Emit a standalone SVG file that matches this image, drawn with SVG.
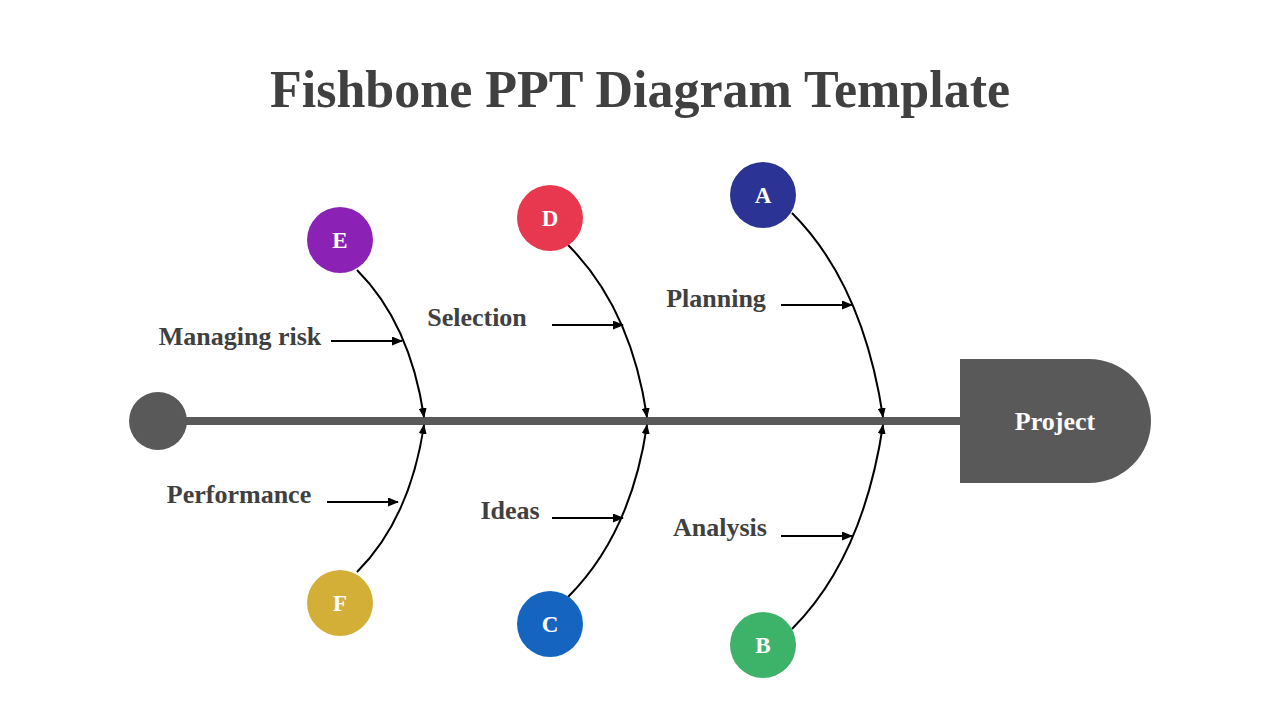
<svg xmlns="http://www.w3.org/2000/svg" width="1280" height="720" viewBox="0 0 1280 720">
  <style>
    .title{font-family:"Liberation Serif","DejaVu Serif",serif;font-weight:bold;font-size:52px;fill:#404040}
    .lbl{font-family:"Liberation Serif","DejaVu Serif",serif;font-weight:bold;font-size:26px;fill:#404040}
    .ltr{font-family:"Liberation Serif","DejaVu Serif",serif;font-weight:bold;font-size:23px;fill:#ffffff}
    .proj{font-family:"Liberation Serif","DejaVu Serif",serif;font-weight:bold;font-size:26px;fill:#ffffff}
    .bone{fill:none;stroke:#000;stroke-width:2;marker-end:url(#ah)}
    .ptr{fill:none;stroke:#000;stroke-width:2;marker-end:url(#ap)}
  </style>
  <defs>
    <marker id="ah" markerUnits="userSpaceOnUse" markerWidth="10" markerHeight="8" refX="9" refY="4" orient="auto" viewBox="0 0 10 8">
      <path d="M0,0 L10,4 L0,8 Z" fill="#000"/>
    </marker>
    <marker id="ap" markerUnits="userSpaceOnUse" markerWidth="11" markerHeight="9" refX="10" refY="4.5" orient="auto" viewBox="0 0 11 9">
      <path d="M0,0 L11,4.5 L0,9 Z" fill="#000"/>
    </marker>
  </defs>

  <rect x="0" y="0" width="1280" height="720" fill="#ffffff"/>
  <text class="title" x="640" y="107" text-anchor="middle">Fishbone PPT Diagram Template</text>

  <g id="spine">
    <line x1="158" y1="421" x2="962" y2="421" stroke="#595959" stroke-width="8"/>
    <circle cx="158" cy="421" r="29" fill="#595959"/>
  </g>

  <g id="connectors">
    <path class="bone" d="M357,270 Q410,323 424,417"/>
    <path class="bone" d="M357,572 Q410,519 424,425"/>
    <path class="bone" d="M568,245 Q631,308 647,417"/>
    <path class="bone" d="M568,597 Q631,534 647,425"/>
    <path class="bone" d="M792,213 Q863,284 883,417"/>
    <path class="bone" d="M792,629 Q863,558 883,425"/>
    <line class="ptr" x1="331" y1="341" x2="402" y2="341"/>
    <line class="ptr" x1="327" y1="502" x2="398" y2="502"/>
    <line class="ptr" x1="552" y1="325" x2="623" y2="325"/>
    <line class="ptr" x1="552" y1="518" x2="623" y2="518"/>
    <line class="ptr" x1="781" y1="305" x2="852" y2="305"/>
    <line class="ptr" x1="781" y1="536" x2="852" y2="536"/>
  </g>

  <g id="project">
    <path d="M960,359 H1089 A62,62 0 0 1 1089,483 H960 Z" fill="#595959"/>
    <text class="proj" x="1055" y="430" text-anchor="middle">Project</text>
  </g>

  <g id="node-A">
    <circle cx="763" cy="195" r="33" fill="#2B3494"/>
    <text class="ltr" x="763" y="203" text-anchor="middle">A</text>
  </g>
  <g id="node-B">
    <circle cx="763" cy="645" r="33" fill="#3DB36A"/>
    <text class="ltr" x="763" y="653" text-anchor="middle">B</text>
  </g>
  <g id="node-C">
    <circle cx="550" cy="624" r="33" fill="#1565C0"/>
    <text class="ltr" x="550" y="632" text-anchor="middle">C</text>
  </g>
  <g id="node-D">
    <circle cx="550" cy="218" r="33" fill="#E8384F"/>
    <text class="ltr" x="550" y="226" text-anchor="middle">D</text>
  </g>
  <g id="node-E">
    <circle cx="340" cy="240" r="33" fill="#8B22B5"/>
    <text class="ltr" x="340" y="248" text-anchor="middle">E</text>
  </g>
  <g id="node-F">
    <circle cx="340" cy="603" r="33" fill="#D4AF37"/>
    <text class="ltr" x="340" y="611" text-anchor="middle">F</text>
  </g>

  <g id="labels">
    <text class="lbl" x="240" y="345" text-anchor="middle">Managing risk</text>
    <text class="lbl" x="239" y="503" text-anchor="middle">Performance</text>
    <text class="lbl" x="477" y="326" text-anchor="middle">Selection</text>
    <text class="lbl" x="510" y="519" text-anchor="middle">Ideas</text>
    <text class="lbl" x="716" y="307" text-anchor="middle">Planning</text>
    <text class="lbl" x="720" y="536" text-anchor="middle">Analysis</text>
  </g>
</svg>
